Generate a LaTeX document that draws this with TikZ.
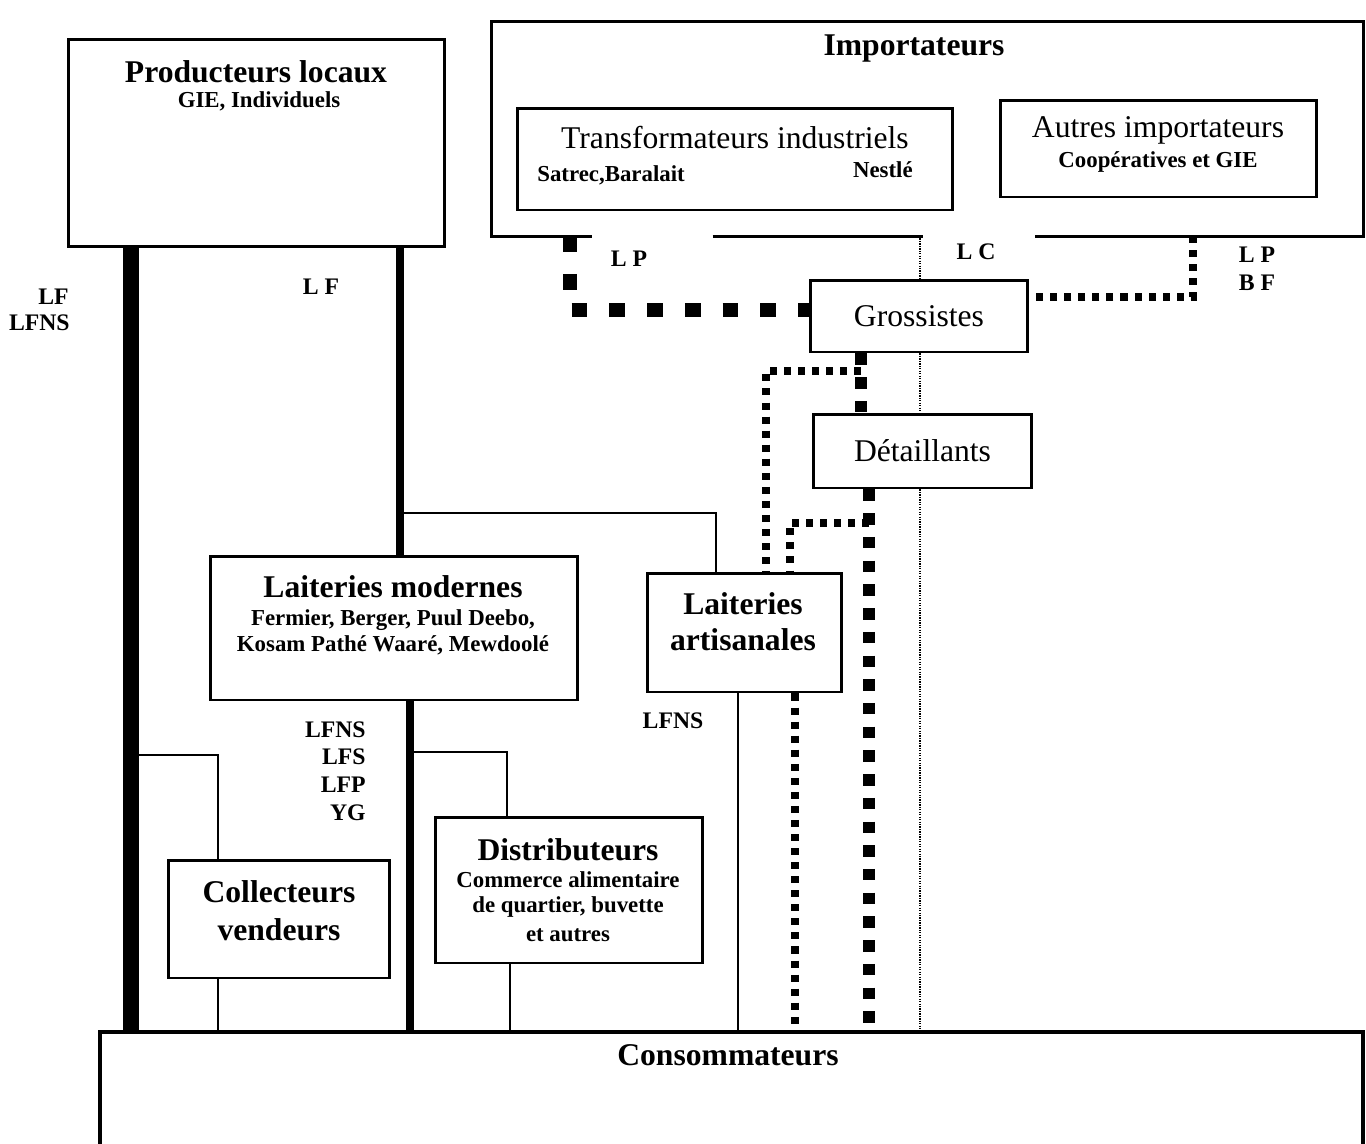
\documentclass[tikz,border=0pt]{standalone}
\usepackage{fontspec}
\setmainfont{Liberation Serif}
\usetikzlibrary{backgrounds}
\begin{document}
\begin{tikzpicture}[x=0.02cm,y=-0.02cm,
 box/.style={draw, line width=1.7pt, fill=white, inner sep=0pt},
 boxline/.style={line width=1.7pt},
 big/.style={font=\bfseries\fontsize{18}{21}\selectfont, inner sep=0pt},
 bigr/.style={font=\fontsize{18}{21}\selectfont},
 sub/.style={font=\bfseries\fontsize{13}{15}\selectfont, inner sep=0pt},
 lab/.style={font=\bfseries\fontsize{13.5}{16}\selectfont, inner sep=0pt},
 heavy/.style={line width=9.5pt},
 medline/.style={line width=4pt},
 modline/.style={line width=5pt},
 thinline/.style={line width=1.3pt},
 sqbig/.style={line width=8.5pt, dash pattern=on 9pt off 12.5pt},
 sqmid/.style={line width=6.5pt, dash pattern=on 6.5pt off 7pt},
 sqsmall/.style={line width=4.5pt, dash pattern=on 4pt off 4pt},
 fine/.style={line width=0.9pt, dash pattern=on 0.7pt off 0.7pt}]
\useasboundingbox (0,0) rectangle (1366,1143);

% ---------- boxes ----------
\node[box, minimum width=7.54cm, minimum height=4.16cm] (prod) at (256.5,143) {};
\node[big] (prodT) at (256,72) {Producteurs locaux};
\node[sub] (prodS) at (259,101) {GIE, Individuels};

\node[minimum width=17.42cm, minimum height=4.28cm, inner sep=0pt] (imp) at (927.5,129) {};
\draw[boxline] ([xshift=2cm]imp.south west) -- (imp.south west) -- (imp.north west)
   -- (imp.north east) -- (imp.south east) -- ++(-328,0);
\draw[boxline] (imp.south west) ++(221,0) -- ++(210,0);
\node[big] (impT) at (914,49) {Importateurs};

\node[box, minimum width=8.72cm, minimum height=2.04cm] (trans) at (735,159) {};
\node[bigr] (transT) at (735,138) {Transformateurs industriels};
\node[sub, anchor=west] (transS1) at (537,175) {Satrec,Baralait};
\node[sub, anchor=east] (transS2) at (913,170) {Nestlé};

\node[box, minimum width=6.34cm, minimum height=1.94cm] (autres) at (1158.5,148.5) {};
\node[bigr] (autresT) at (1158,130) {Autres importateurs};
\node[sub] (autresS) at (1158,162) {Coopératives et GIE};

\node[box, minimum width=4.36cm, minimum height=1.44cm, bigr] (gros) at (919,316) {Grossistes};
\node[box, minimum width=4.38cm, minimum height=1.48cm, bigr] (det) at (922.5,451) {Détaillants};

\node[box, minimum width=7.36cm, minimum height=2.88cm] (lm) at (394,628) {};
\node[big] (lmT) at (393,587) {Laiteries modernes};
\node[sub] (lmS1) at (393,620) {Fermier, Berger, Puul Deebo,};
\node[sub] (lmS2) at (393,645) {Kosam Pathé Waaré, Mewdoolé};

\node[box, minimum width=3.9cm, minimum height=2.38cm] (la) at (744.5,632.5) {};
\node[big] (laT1) at (743,604) {Laiteries};
\node[big] (laT2) at (743,640) {artisanales};

\node[box, minimum width=4.44cm, minimum height=2.36cm] (coll) at (279,919) {};
\node[big] (collT1) at (279,892) {Collecteurs};
\node[big] (collT2) at (279,930) {vendeurs};

\node[box, minimum width=5.36cm, minimum height=2.92cm] (dist) at (569,890) {};
\node[big] (distT) at (568,850) {Distributeurs};
\node[sub] (distS1) at (568,880) {Commerce alimentaire};
\node[sub] (distS2) at (568,907) {de quartier, buvette};
\node[sub] (distS3) at (568,935) {et autres};

\node[draw, line width=2pt, minimum width=25.26cm, minimum height=4cm, anchor=north, inner sep=0pt] (cons) at (731.5,1030) {};
\node[big] (consT) at (728,1055) {Consommateurs};

% ---------- coordinates ----------
\coordinate (xa) at (131,0);
\coordinate (xb) at (400,0);
\coordinate (xc) at (716,0);
\coordinate (xf) at (410,0);
\coordinate (xg) at (507,0);
\coordinate (xh) at (510,0);
\coordinate (xi) at (218,0);
\coordinate (xj) at (738,0);
\coordinate (xd) at (766,0);
\coordinate (xe) at (790,0);
\coordinate (xm) at (795,0);
\coordinate (xk) at (861,0);
\coordinate (xl) at (869,0);
\coordinate (j1) at (400,513);
\coordinate (j4) at (410,752);
\coordinate (j5) at (131,755);
\coordinate (j2) at (861,371);
\coordinate (j3) at (869,523);
\coordinate (lp1) at (570,236);
\coordinate (lp2) at (1193,236);
\coordinate (lc1) at (920,236);

% ---------- connectors ----------
\begin{scope}[on background layer]
\draw[heavy] (prod.south -| xa) -- (cons.north -| xa);
\draw[medline] (prod.south -| xb) -- (lm.north -| xb);
\draw[thinline] (j1) -| (la.north -| xc);
\draw[modline] (lm.south -| xf) -- (cons.north -| xf);
\draw[thinline] (j4) -| (dist.north -| xg);
\draw[thinline] (dist.south -| xh) -- (cons.north -| xh);
\draw[thinline] (j5) -| (coll.north -| xi);
\draw[thinline] (coll.south -| xi) -- (cons.north -| xi);
\draw[thinline] (la.south -| xj) -- (cons.north -| xj);
\draw[sqbig] (lp1) |- ([yshift=0.12cm]gros.west);
\draw[sqsmall] (lp2) |- ([yshift=0.38cm]gros.east);
\draw[fine] (lc1) -- (gros.north -| lc1);
\draw[fine] (gros.south -| lc1) -- (det.north -| lc1);
\draw[fine] (det.south -| lc1) -- (cons.north -| lc1);
\draw[sqmid] (gros.south -| xk) -- (det.north -| xk);
\draw[sqmid] (det.south -| xl) -- (cons.north -| xl);
\draw[sqsmall] (j2) -| (la.north -| xd);
\draw[sqsmall] (j3) -| (la.north -| xe);
\draw[sqsmall] (la.south -| xm) -- (cons.north -| xm);
\end{scope}

% ---------- labels ----------
\node[lab, anchor=east] (l1) at (69,297) {LF};
\node[lab, anchor=east] (l2) at (70,323) {LFNS};
\node[lab] (l3) at (321,287) {L F};
\node[lab] (l4) at (629,259) {L P};
\node[lab] (l5) at (976,252) {L C};
\node[lab] (l6) at (1257,255) {L P};
\node[lab] (l7) at (1257,283) {B F};
\node[lab, anchor=east] (l8) at (366,730) {LFNS};
\node[lab, anchor=east] (l9) at (366,757) {LFS};
\node[lab, anchor=east] (l10) at (366,785) {LFP};
\node[lab, anchor=east] (l11) at (366,813) {YG};
\node[lab] (l12) at (673,721) {LFNS};
\end{tikzpicture}
\end{document}
